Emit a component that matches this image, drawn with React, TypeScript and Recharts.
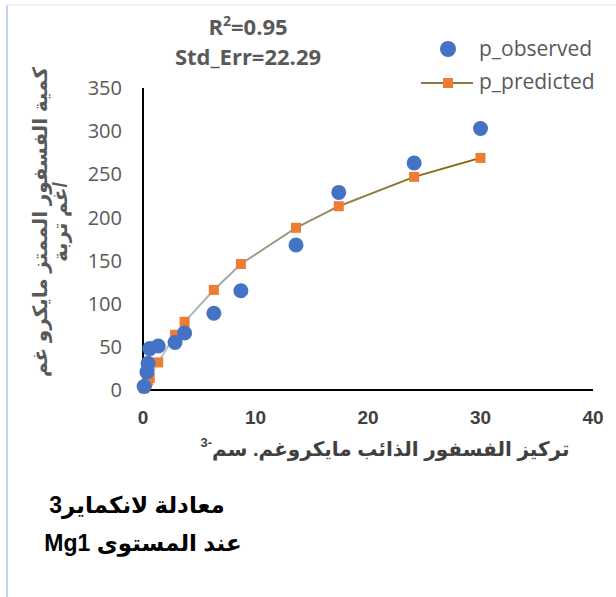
import React from "react";
import { ScatterChart, Scatter, XAxis, YAxis } from "recharts";

// dissolved P (x) vs adsorbed P, observed and Langmuir-predicted
const concentration = [0.1, 0.35, 0.45, 0.6, 1.35, 2.85, 3.7, 6.3, 8.7, 13.6, 17.4, 24.1, 30];
const pObserved = [4, 21, 31, 48, 51, 55, 66, 89, 115, 168, 229, 263, 303];
const pPredicted = [2, 8, 11, 14, 32, 64, 79, 116, 146, 188, 213, 247, 269];
const xTicks = [0, 10, 20, 30, 40];
const yTicks = [0, 50, 100, 150, 200, 250, 300, 350];

const observedData = concentration.map((x, i) => ({ x, y: pObserved[i] }));
const predictedData = concentration.map((x, i) => ({ x, y: pPredicted[i] }));

const BLUE = "#4472c4";
const ORANGE = "#ed7d31";
const GREY = "#595959";
const arabic = "'Liberation Sans', 'DejaVu Sans', sans-serif";

const Dot = (p: any) => <circle cx={p.cx} cy={p.cy} r={7.5} fill={BLUE} />;
const Square = (p: any) => (
  <rect x={p.cx - 5} y={p.cy - 5} width={10} height={10} fill={ORANGE} />
);

export default function App() {
  return (
    <div style={{ position: "fixed", left: 0, top: 0, width: 616, height: 597, background: "#fff" }}>
      {/* frame */}
      <div
        style={{
          position: "absolute",
          left: 6,
          top: 4,
          width: 620,
          height: 591,
          borderLeft: "2px solid #c3d3ed",
          borderBottom: "2px solid #c3d3ed",
          borderTop: "2px solid #f0f2fa",
        }}
      />
      <div style={{ position: "absolute", left: 0, top: 0 }}>
        <ScatterChart width={616} height={597} margin={{ top: 88, right: 23, bottom: 177, left: 83 }}>
          <defs>
            <linearGradient id="predGrad" x1="0" y1="0" x2="1" y2="0">
              <stop offset="0%" stopColor="#b0c4e2" />
              <stop offset="35%" stopColor="#a09a82" />
              <stop offset="100%" stopColor="#7f6000" />
            </linearGradient>
          </defs>
          <XAxis
            type="number"
            dataKey="x"
            domain={[0, 40]}
            ticks={xTicks}
            height={30}
            axisLine={{ stroke: "#000", strokeWidth: 2 }}
            tickLine={false}
            tickSize={0}
            tickMargin={21}
            tick={{ fill: "#404040", fontSize: 19, fontWeight: "bold", fontFamily: "'Liberation Sans', Arial" }}
          />
          <YAxis
            type="number"
            dataKey="y"
            domain={[0, 350]}
            ticks={yTicks}
            width={60}
            axisLine={{ stroke: "#000", strokeWidth: 2 }}
            tickLine={false}
            tickSize={0}
            tickMargin={21}
            tick={{ fill: GREY, fontSize: 20, fontFamily: "'Open Sans', sans-serif" }}
          />
          <Scatter
            data={predictedData}
            shape={Square}
            line={{ stroke: "url(#predGrad)", strokeWidth: 2 }}
            isAnimationActive={false}
          />
          <Scatter data={observedData} shape={Dot} isAnimationActive={false} />
        </ScatterChart>
      </div>

      {/* texts */}
      <svg width={616} height={597} style={{ position: "absolute", left: 0, top: 0, pointerEvents: "none" }}>
        <g fontFamily="'Open Sans', sans-serif" fontWeight="bold" fill={GREY} fontSize={22} textAnchor="middle">
          <text x={248} y={35}>
            R<tspan fontSize={14} dy={-9}>2</tspan>
            <tspan dy={9}>=0.95</tspan>
          </text>
          <text x={248} y={65}>Std_Err=22.29</text>
        </g>

        <circle cx={448} cy={49} r={8} fill={BLUE} />
        <line x1={421} y1={83} x2={473} y2={83} stroke="#8c7a40" strokeWidth={2} />
        <rect x={443} y={78} width={10} height={10} fill={ORANGE} />
        <g fontFamily="'Open Sans', sans-serif" fill={GREY} fontSize={21}>
          <text x={479} y={56}>p_observed</text>
          <text x={479} y={89}>p_predicted</text>
        </g>

        <g fontFamily={arabic} fontWeight="bold" fill={GREY} fontSize={20} textAnchor="middle">
          <text transform="translate(40,222) rotate(-90)" direction="rtl" dominantBaseline="central">
            كمية الفسفور الممتز مايكرو غم
          </text>
          <text transform="translate(60,222) rotate(-90)" direction="rtl" dominantBaseline="central">
            /غم تربة
          </text>
        </g>

        <text x={385} y={456} fontFamily={arabic} fontWeight="bold" fill="#404040" fontSize={20} textAnchor="middle" direction="rtl">
          تركيز الفسفور الذائب مايكروغم. سم
          <tspan fontSize={13} dy={-9}>-3</tspan>
        </text>

        <g fontFamily={arabic} fontWeight="bold" fill="#000" fontSize={23} textAnchor="middle" direction="rtl">
          <text x={137} y={513}>معادلة لانكماير3</text>
          <text x={143} y={551}>عند المستوى Mg1</text>
        </g>
      </svg>
    </div>
  );
}
